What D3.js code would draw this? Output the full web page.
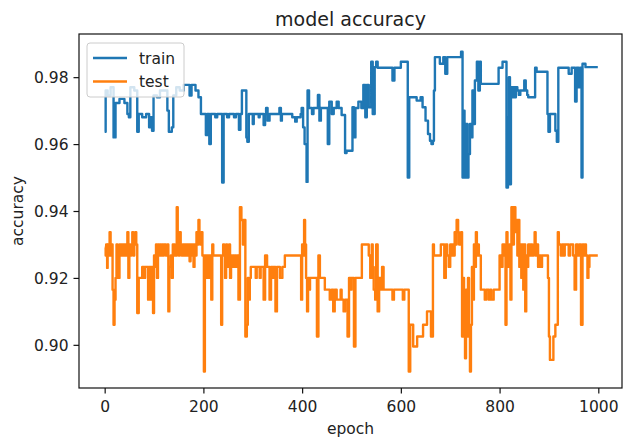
<!DOCTYPE html>
<html>
<head>
<meta charset="utf-8">
<script src="https://cdn.jsdelivr.net/npm/d3@7"></script>
<style>
  body { margin: 0; background: #fff; }
  text { font-family: "DejaVu Sans", sans-serif; fill: #222; }
</style>
</head>
<body>
<script>
// model accuracy per epoch (value holds until next epoch listed)
var trainEpochs = [0,2,6,12,18,22,30,40,46,49,52,60,66,69,76,84,90,93,96,99,106,112,124,127,130,136,139,145,152,160,172,176,184,190,195,205,208,212,215,224,228,238,241,248,252,262,266,272,275,278,287,289,292,300,302,312,314,322,325,327,330,334,354,357,359,380,386,389,397,399,402,405,409,411,414,420,423,432,435,438,452,455,460,464,470,474,480,487,490,502,505,508,514,520,524,528,531,535,540,543,547,550,553,583,587,600,614,617,632,640,644,650,655,659,662,665,667,669,679,686,690,694,722,725,727,729,732,735,737,740,743,745,748,750,754,757,760,762,798,806,814,817,819,821,823,826,828,831,833,836,839,842,846,850,853,856,858,872,875,897,899,902,913,916,919,930,940,946,953,956,960,963,966,968,974,999];
var trainAcc = [0.9637,0.9760,0.9745,0.9770,0.9620,0.9723,0.9735,0.9723,0.9690,0.9680,0.9770,0.9760,0.9637,0.9690,0.9680,0.9690,0.9650,0.9680,0.9640,0.9745,0.9740,0.9760,0.9760,0.9700,0.9637,0.9650,0.9745,0.9770,0.9760,0.9777,0.9745,0.9777,0.9760,0.9740,0.9690,0.9627,0.9690,0.9600,0.9690,0.9680,0.9690,0.9485,0.9690,0.9680,0.9690,0.9680,0.9690,0.9643,0.9690,0.9760,0.9620,0.9607,0.9690,0.9660,0.9690,0.9680,0.9690,0.9657,0.9690,0.9708,0.9670,0.9690,0.9708,0.9670,0.9690,0.9680,0.9667,0.9680,0.9690,0.9708,0.9650,0.9600,0.9487,0.9760,0.9708,0.9690,0.9708,0.9747,0.9670,0.9708,0.9600,0.9727,0.9690,0.9708,0.9727,0.9708,0.9687,0.9573,0.9580,0.9710,0.9620,0.9708,0.9727,0.9708,0.9777,0.9680,0.9777,0.9710,0.9846,0.9690,0.9830,0.9846,0.9828,0.9790,0.9828,0.9846,0.9500,0.9740,0.9730,0.9740,0.9710,0.9670,0.9630,0.9610,0.9600,0.9610,0.9760,0.9860,0.9840,0.9860,0.9810,0.9860,0.9876,0.9500,0.9700,0.9500,0.9660,0.9500,0.9570,0.9660,0.9620,0.9760,0.9660,0.9790,0.9846,0.9760,0.9846,0.9780,0.9828,0.9846,0.9470,0.9680,0.9800,0.9480,0.9770,0.9740,0.9770,0.9740,0.9770,0.9760,0.9747,0.9760,0.9760,0.9790,0.9760,0.9747,0.9740,0.9828,0.9816,0.9690,0.9637,0.9690,0.9640,0.9607,0.9828,0.9828,0.9810,0.9828,0.9727,0.9828,0.9770,0.9828,0.9500,0.9840,0.9830,0.9830];

var testEpochs = [0,2,3,5,6,8,10,12,14,16,18,20,22,24,26,28,30,32,34,36,38,40,42,44,46,48,50,52,54,56,58,60,62,64,66,69,76,80,82,88,90,93,95,98,100,102,104,106,108,110,112,114,116,118,120,124,127,129,131,134,136,138,142,146,148,150,152,154,156,158,160,162,164,166,168,170,172,174,176,178,180,182,184,186,188,190,192,194,196,198,201,203,206,208,210,212,216,218,220,236,238,240,242,244,246,248,250,252,254,256,258,260,262,264,266,268,271,274,277,280,282,285,288,290,292,294,296,301,306,308,314,316,322,325,329,334,337,340,342,346,349,355,360,365,398,400,402,404,406,408,410,412,414,416,430,433,436,446,456,460,463,466,470,478,480,484,487,492,495,498,500,505,508,521,535,538,541,543,545,548,550,553,556,560,562,565,583,586,604,607,616,619,625,633,645,653,661,665,667,681,688,691,694,697,700,703,705,707,709,711,713,716,718,722,724,726,728,730,732,734,736,738,740,742,744,746,748,750,752,754,756,758,762,770,773,778,781,783,788,800,803,806,810,812,814,816,818,820,822,824,827,829,832,834,836,838,840,842,844,846,848,850,852,854,856,858,862,864,866,869,871,873,876,878,880,884,886,898,900,902,909,913,918,920,924,927,930,932,940,943,949,952,955,958,961,965,968,971,973,975,978,980,982,999];
var testAcc = [0.9290,0.9267,0.9300,0.9230,0.9300,0.9267,0.9337,0.9267,0.9300,0.9165,0.9060,0.9135,0.9200,0.9300,0.9267,0.9200,0.9300,0.9267,0.9300,0.9267,0.9300,0.9267,0.9300,0.9267,0.9337,0.9200,0.9300,0.9267,0.9300,0.9337,0.9267,0.9300,0.9337,0.9300,0.9095,0.9200,0.9233,0.9200,0.9233,0.9135,0.9233,0.9135,0.9233,0.9095,0.9267,0.9233,0.9300,0.9200,0.9300,0.9267,0.9300,0.9267,0.9300,0.9267,0.9300,0.9267,0.9300,0.9100,0.9233,0.9267,0.9200,0.9300,0.9267,0.9411,0.9300,0.9267,0.9337,0.9300,0.9267,0.9300,0.9267,0.9300,0.9267,0.9300,0.9267,0.9300,0.9250,0.9300,0.9267,0.9300,0.9233,0.9300,0.9267,0.9337,0.9300,0.9373,0.9337,0.9300,0.9337,0.9267,0.8920,0.9267,0.9200,0.9267,0.9200,0.9267,0.9135,0.9300,0.9267,0.9060,0.9267,0.9300,0.9267,0.9200,0.9300,0.9233,0.9267,0.9300,0.9200,0.9267,0.9233,0.9267,0.9233,0.9267,0.9233,0.9267,0.9135,0.9411,0.9373,0.9300,0.9373,0.9025,0.9060,0.9200,0.9135,0.9200,0.9233,0.9233,0.9200,0.9233,0.9200,0.9233,0.9135,0.9267,0.9233,0.9135,0.9233,0.9200,0.9233,0.9100,0.9233,0.9200,0.9233,0.9267,0.9135,0.9300,0.9267,0.9373,0.9300,0.9200,0.9100,0.9200,0.9165,0.9200,0.9025,0.9267,0.9200,0.9165,0.9135,0.9165,0.9100,0.9165,0.9135,0.9165,0.9135,0.9100,0.9135,0.9025,0.9200,0.9165,0.9200,0.8995,0.9200,0.9300,0.9267,0.9200,0.9300,0.9233,0.9165,0.9135,0.9300,0.9100,0.9200,0.9165,0.9233,0.9165,0.9135,0.9165,0.9135,0.9165,0.8920,0.9060,0.8995,0.9025,0.9060,0.9100,0.9025,0.9300,0.9267,0.9300,0.9200,0.9300,0.9267,0.9233,0.9300,0.9267,0.9300,0.9267,0.9337,0.9300,0.9373,0.9337,0.9300,0.9337,0.9025,0.9200,0.9100,0.8960,0.9165,0.9025,0.9200,0.9060,0.8920,0.9060,0.9233,0.9135,0.9300,0.9233,0.9337,0.9267,0.9300,0.9267,0.9165,0.9135,0.9165,0.9135,0.9165,0.9135,0.9165,0.9267,0.9233,0.9300,0.9267,0.9060,0.9337,0.9300,0.9233,0.9300,0.9135,0.9411,0.9300,0.9411,0.9337,0.9373,0.9267,0.9373,0.9233,0.9300,0.9200,0.9300,0.9165,0.9300,0.9100,0.9267,0.9233,0.9300,0.9267,0.9300,0.9267,0.9300,0.9337,0.9267,0.9300,0.9233,0.9267,0.9233,0.9267,0.9200,0.9025,0.8955,0.9025,0.9060,0.9337,0.9300,0.9267,0.9300,0.9267,0.9300,0.9267,0.9300,0.9267,0.9165,0.9300,0.9267,0.9300,0.9060,0.9300,0.9267,0.9300,0.9267,0.9200,0.9233,0.9267,0.9267];

var seriesNames = ["train", "test"];
var seriesColors = ["#1f77b4", "#ff7f0e"];
var xTicks = [0, 200, 400, 600, 800, 1000];
var yTicks = [0.90, 0.92, 0.94, 0.96, 0.98];

var W = 626, H = 439;
var margin = {top: 34, right: 4, bottom: 51, left: 79},
    width = W - margin.left - margin.right,
    height = H - margin.top - margin.bottom;

var svg = d3.select("body").append("svg")
    .attr("width", W)
    .attr("height", H);

var g = svg.append("g")
    .attr("transform", "translate(" + margin.left + "," + margin.top + ")");

var x = d3.scaleLinear().domain([-52, 1048]).range([0, width]);
var y = d3.scaleLinear().domain([0.8871, 0.9929]).range([height, 0]);

// axes
var xAxis = g.append("g")
    .attr("transform", "translate(0," + height + ")")
    .call(d3.axisBottom(x).tickValues(xTicks).tickSize(5.5).tickPadding(7.5).tickFormat(d3.format("d")));
var yAxis = g.append("g")
    .call(d3.axisLeft(y).tickValues(yTicks).tickSize(5.5).tickPadding(5).tickFormat(d3.format(".2f")));

[xAxis, yAxis].forEach(function(a) {
  a.select(".domain").remove();
  a.selectAll(".tick line").attr("stroke", "#111").attr("stroke-width", 1.2);
  a.selectAll(".tick text")
    .style("font-family", "DejaVu Sans")
    .style("font-size", "15.5px")
    .attr("fill", "#222");
});
yAxis.selectAll(".tick text").attr("dy", "0.36em");

// lines
var line = d3.line()
    .x(function(d) { return x(d[0]); })
    .y(function(d) { return y(d[1]); })
    .curve(d3.curveStepAfter);

var series = [
  d3.zip(trainEpochs, trainAcc),
  d3.zip(testEpochs, testAcc)
];

g.selectAll(".series")
  .data(series)
  .enter()
  .append("path")
    .attr("class", "series")
    .attr("d", line)
    .attr("fill", "none")
    .attr("stroke", function(d, i) { return seriesColors[i]; })
    .attr("stroke-width", 2.4)
    .attr("stroke-linejoin", "round");

// frame
g.append("rect")
    .attr("width", width)
    .attr("height", height)
    .attr("fill", "none")
    .attr("stroke", "#111")
    .attr("stroke-width", 1.2);

// legend
var legend = g.append("g").attr("transform", "translate(8,9)");
legend.append("rect")
    .attr("width", 97)
    .attr("height", 54)
    .attr("rx", 3)
    .attr("fill", "#fff")
    .attr("fill-opacity", 0.8)
    .attr("stroke", "#ccc")
    .attr("stroke-width", 1);

var items = legend.selectAll(".item")
  .data(seriesNames)
  .enter()
  .append("g")
    .attr("class", "item")
    .attr("transform", function(d, i) { return "translate(0," + (15 + i * 23.5) + ")"; });
items.append("line")
    .attr("x1", 6).attr("x2", 40)
    .attr("stroke", function(d, i) { return seriesColors[i]; })
    .attr("stroke-width", 2.4);
items.append("text")
    .attr("x", 52)
    .attr("dy", "0.36em")
    .style("font-size", "15.5px")
    .text(function(d) { return d; });

// labels
svg.append("text")
    .attr("x", margin.left + width / 2)
    .attr("y", 26)
    .attr("text-anchor", "middle")
    .style("font-size", "19px")
    .text("model accuracy");

svg.append("text")
    .attr("x", margin.left + width / 2)
    .attr("y", 434)
    .attr("text-anchor", "middle")
    .style("font-size", "15.5px")
    .text("epoch");

svg.append("text")
    .attr("transform", "translate(23," + (margin.top + height / 2) + ") rotate(-90)")
    .attr("text-anchor", "middle")
    .style("font-size", "15.5px")
    .text("accuracy");
</script>
</body>
</html>
